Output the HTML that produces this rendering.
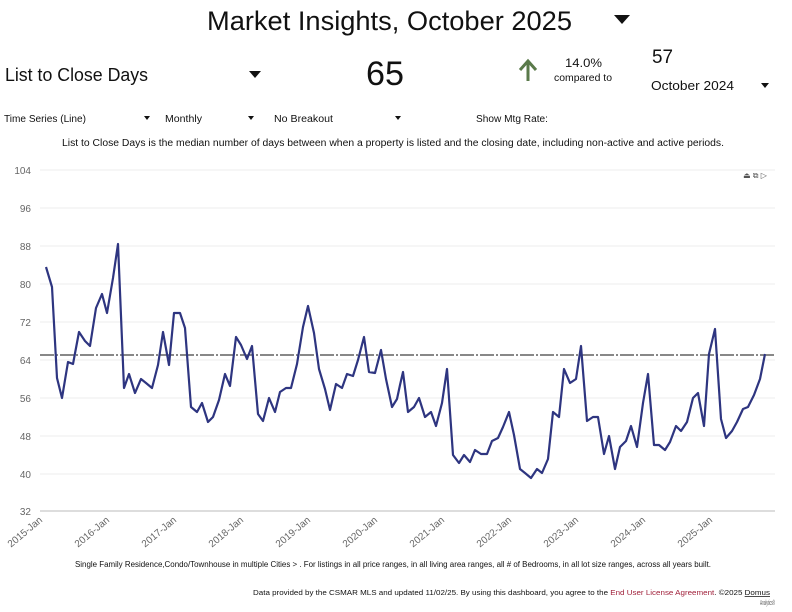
<!DOCTYPE html>
<html><head><meta charset="utf-8"><style>
html,body{margin:0;padding:0;background:#fff;}
svg{display:block;font-family:"Liberation Sans","DejaVu Sans",sans-serif;}
</style></head><body>
<svg width="792" height="612" viewBox="0 0 792 612" xmlns="http://www.w3.org/2000/svg">
<text x="207" y="30" font-size="27" fill="#111" textLength="365" lengthAdjust="spacingAndGlyphs">Market Insights, October 2025</text>
<polygon points="614,15 630,15 622,24" fill="#111"/>
<text x="5" y="81" font-size="18" fill="#111" textLength="143" lengthAdjust="spacingAndGlyphs">List to Close Days</text>
<polygon points="249,71 261,71 255,78" fill="#111"/>
<text x="366" y="85" font-size="34" fill="#111" textLength="38" lengthAdjust="spacingAndGlyphs">65</text>
<path d="M528,81 L528,62 M520,70 L528,61 L536,70" stroke="#5a7a4a" stroke-width="3" fill="none"/>
<text x="565" y="67" font-size="12" fill="#111" textLength="37" lengthAdjust="spacingAndGlyphs">14.0%</text>
<text x="554" y="81" font-size="10" fill="#111" textLength="58" lengthAdjust="spacingAndGlyphs">compared to</text>
<text x="652" y="63" font-size="19" fill="#111" textLength="21" lengthAdjust="spacingAndGlyphs">57</text>
<text x="651" y="90" font-size="13" fill="#111" textLength="83" lengthAdjust="spacingAndGlyphs">October 2024</text>
<polygon points="761,83 769,83 765,88" fill="#111"/>
<g font-size="10" fill="#111">
<text x="4" y="122" textLength="82" lengthAdjust="spacingAndGlyphs">Time Series (Line)</text>
<polygon points="144,116 150,116 147,120"/>
<text x="165" y="122" textLength="37" lengthAdjust="spacingAndGlyphs">Monthly</text>
<polygon points="248,116 254,116 251,120"/>
<text x="274" y="122" textLength="59" lengthAdjust="spacingAndGlyphs">No Breakout</text>
<polygon points="395,116 401,116 398,120"/>
<text x="476" y="122" textLength="72" lengthAdjust="spacingAndGlyphs">Show Mtg Rate:</text>
<text x="62" y="146" textLength="662" lengthAdjust="spacingAndGlyphs">List to Close Days is the median number of days between when a property is listed and the closing date, including non-active and active periods.</text>
</g>
<g font-size="8" fill="#555">
<text x="743" y="178">⏏ ⧉ ▷</text>
</g>
<g stroke="#eee" stroke-width="1">
<line x1="40" y1="170" x2="775" y2="170"/><line x1="40" y1="208" x2="775" y2="208"/><line x1="40" y1="246" x2="775" y2="246"/><line x1="40" y1="284" x2="775" y2="284"/><line x1="40" y1="322" x2="775" y2="322"/><line x1="40" y1="360" x2="775" y2="360"/><line x1="40" y1="398" x2="775" y2="398"/><line x1="40" y1="436" x2="775" y2="436"/><line x1="40" y1="474" x2="775" y2="474"/>
</g>
<line x1="40" y1="511" x2="775" y2="511" stroke="#bbb" stroke-width="1"/>
<g font-size="10" fill="#666" text-anchor="end">
<text x="31" y="174">104</text><text x="31" y="212">96</text><text x="31" y="250">88</text><text x="31" y="288">80</text><text x="31" y="326">72</text><text x="31" y="364">64</text><text x="31" y="402">56</text><text x="31" y="440">48</text><text x="31" y="478">40</text><text x="31" y="515">32</text>
</g>
<line x1="40" y1="355" x2="775" y2="355" stroke="#111" stroke-width="1" stroke-dasharray="14,2,2,2"/>
<polyline fill="none" stroke="#2e3580" stroke-width="2.2" stroke-linejoin="round" points="46,267 52,287 57,378 62,398 68,362 73,364 79,332 85,341 90,346 96,308 102,294 107,313 113,278 118,244 124,388 129,374 135,393 141,379 146,383 152,388 158,365 163,332 169,365 174,313 180,313 185,328 191,407 197,412 202,403 208,422 213,417 219,400 225,374 230,386 236,337 241,345 247,359 252,346 258,414 263,421 269,398 275,412 280,392 286,388 291,388 297,364 303,327 308,306 314,333 319,369 325,389 330,410 336,384 342,388 347,374 353,376 358,360 364,337 369,372 375,373 381,350 386,379 392,407 397,399 400,385 403,372 408,412 414,407 419,398 425,417 431,412 436,426 442,403 447,369 453,455 459,463 464,455 470,462 475,450 481,454 487,454 492,441 498,438 503,427 509,412 514,435 520,469 525,473 531,478 537,469 542,473 548,459 553,412 559,417 564,369 570,383 576,379 581,346 587,421 593,417 598,417 604,454 609,436 615,469 620,447 626,441 631,426 637,447 643,403 648,374 654,445 659,445 665,450 670,442 676,426 681,431 687,422 693,398 698,393 704,426 709,354 715,329 721,419 726,438 732,431 737,422 743,409 748,407 754,395 760,379 765,354"/>
<g font-size="10" fill="#666" text-anchor="end">
<text transform="translate(43,521) rotate(-40)">2015-Jan</text>
<text transform="translate(110,521) rotate(-40)">2016-Jan</text>
<text transform="translate(177,521) rotate(-40)">2017-Jan</text>
<text transform="translate(244,521) rotate(-40)">2018-Jan</text>
<text transform="translate(311,521) rotate(-40)">2019-Jan</text>
<text transform="translate(378,521) rotate(-40)">2020-Jan</text>
<text transform="translate(445,521) rotate(-40)">2021-Jan</text>
<text transform="translate(512,521) rotate(-40)">2022-Jan</text>
<text transform="translate(579,521) rotate(-40)">2023-Jan</text>
<text transform="translate(646,521) rotate(-40)">2024-Jan</text>
<text transform="translate(713,521) rotate(-40)">2025-Jan</text>
</g>
<text x="75" y="567" font-size="8" fill="#111" textLength="636" lengthAdjust="spacingAndGlyphs">Single Family Residence,Condo/Townhouse in multiple Cities &gt; . For listings in all price ranges, in all living area ranges, all # of Bedrooms, in all lot size ranges, across all years built.</text>
<text x="253" y="595" font-size="7.5" fill="#111" textLength="517" lengthAdjust="spacingAndGlyphs">Data provided by the CSMAR MLS and updated 11/02/25. By using this dashboard, you agree to the <tspan fill="#a0203a">End User License Agreement</tspan>. ©2025 <tspan text-decoration="underline">Domus</tspan></text>
<text x="760" y="605" font-size="7.5" fill="#555" textLength="15" lengthAdjust="spacingAndGlyphs">Analytics®</text>
</svg>
</body></html>
